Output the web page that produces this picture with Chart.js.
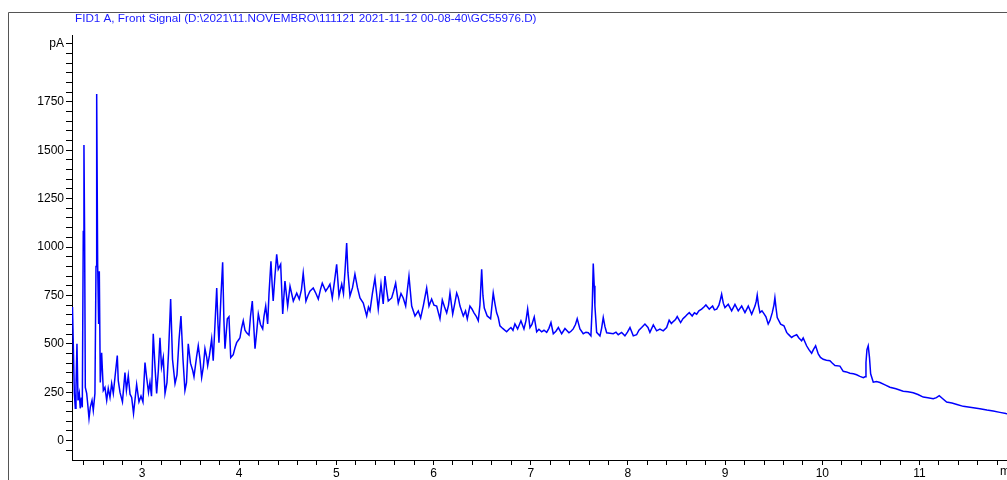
<!DOCTYPE html>
<html>
<head>
<meta charset="utf-8">
<script src="https://cdn.jsdelivr.net/npm/chart.js@4.4.1/dist/chart.umd.min.js"></script>
<style>
  html, body { margin: 0; padding: 0; background: #fff; }
  #wrap { width: 1007px; height: 480px; position: relative; }
</style>
</head>
<body>
<div id="wrap"><canvas id="chromChart"></canvas></div>
<script>
const chartTitle = 'FID1 A, Front Signal (D:\\2021\\11.NOVEMBRO\\111121 2021-11-12 00-08-40\\GC55976.D)';
const xUnit = 'min';
const yUnit = 'pA';

// retention time (min)
const timeMin = [
  2.285, 2.304, 2.314, 2.321, 2.331, 2.342, 2.355, 2.365, 2.376, 2.386,
  2.396, 2.403, 2.410, 2.417, 2.431, 2.441, 2.455, 2.468, 2.486, 2.499,
  2.516, 2.527, 2.534, 2.544, 2.554, 2.561, 2.571, 2.585, 2.602, 2.619,
  2.637, 2.653, 2.671, 2.688, 2.705, 2.722, 2.746, 2.756, 2.774, 2.799,
  2.825, 2.840, 2.859, 2.877, 2.894, 2.913, 2.945, 2.969, 2.990, 3.010,
  3.031, 3.048, 3.067, 3.082, 3.098, 3.116, 3.134, 3.151, 3.168, 3.185,
  3.201, 3.219, 3.237, 3.257, 3.273, 3.295, 3.314, 3.340, 3.360, 3.381,
  3.401, 3.422, 3.442, 3.458, 3.476, 3.499, 3.522, 3.535, 3.561, 3.579,
  3.597, 3.614, 3.631, 3.648, 3.666, 3.676, 3.694, 3.717, 3.733, 3.751,
  3.769, 3.782, 3.792, 3.813, 3.830, 3.843, 3.854, 3.878, 3.895, 3.913,
  3.939, 3.957, 3.974, 3.993, 4.008, 4.024, 4.042, 4.060, 4.077, 4.101,
  4.116, 4.135, 4.149, 4.163, 4.180, 4.197, 4.219, 4.242, 4.255, 4.273,
  4.293, 4.307, 4.327, 4.340, 4.350, 4.368, 4.386, 4.402, 4.427, 4.448,
  4.471, 4.499, 4.523, 4.557, 4.592, 4.618, 4.641, 4.659, 4.687, 4.708,
  4.728, 4.762, 4.790, 4.814, 4.836, 4.855, 4.890, 4.914, 4.934, 4.958,
  4.980, 5.003, 5.027, 5.055, 5.073, 5.088, 5.106, 5.119, 5.140, 5.166,
  5.191, 5.217, 5.243, 5.277, 5.312, 5.330, 5.346, 5.371, 5.397, 5.414,
  5.431, 5.459, 5.482, 5.500, 5.517, 5.534, 5.569, 5.588, 5.610, 5.637,
  5.665, 5.688, 5.713, 5.731, 5.747, 5.775, 5.809, 5.843, 5.867, 5.896,
  5.929, 5.953, 5.980, 6.004, 6.032, 6.066, 6.090, 6.113, 6.135, 6.154,
  6.169, 6.197, 6.215, 6.238, 6.254, 6.272, 6.306, 6.329, 6.347, 6.374,
  6.395, 6.416, 6.441, 6.460, 6.477, 6.495, 6.508, 6.522, 6.552, 6.587,
  6.614, 6.632, 6.649, 6.666, 6.683, 6.701, 6.717, 6.752, 6.776, 6.796,
  6.817, 6.837, 6.865, 6.899, 6.930, 6.951, 6.968, 6.992, 7.012, 7.036,
  7.061, 7.084, 7.112, 7.136, 7.164, 7.187, 7.208, 7.232, 7.259, 7.284,
  7.318, 7.352, 7.393, 7.414, 7.437, 7.460, 7.478, 7.506, 7.540, 7.568,
  7.592, 7.619, 7.633, 7.643, 7.653, 7.660, 7.678, 7.696, 7.712, 7.729,
  7.746, 7.763, 7.781, 7.815, 7.849, 7.877, 7.900, 7.935, 7.969, 7.995,
  8.021, 8.055, 8.089, 8.113, 8.141, 8.175, 8.206, 8.226, 8.261, 8.295,
  8.329, 8.363, 8.398, 8.424, 8.447, 8.466, 8.489, 8.507, 8.542, 8.566,
  8.586, 8.607, 8.631, 8.661, 8.684, 8.707, 8.730, 8.758, 8.782, 8.802,
  8.837, 8.871, 8.890, 8.913, 8.936, 8.952, 8.964, 8.981, 8.998, 9.032,
  9.067, 9.101, 9.135, 9.170, 9.204, 9.238, 9.273, 9.307, 9.320, 9.330,
  9.343, 9.358, 9.379, 9.399, 9.420, 9.443, 9.461, 9.485, 9.502, 9.512,
  9.525, 9.536, 9.571, 9.605, 9.633, 9.649, 9.667, 9.684, 9.703, 9.736,
  9.759, 9.787, 9.803, 9.838, 9.862, 9.890, 9.908, 9.931, 9.958, 9.981,
  10.009, 10.042, 10.078, 10.104, 10.130, 10.181, 10.215, 10.248, 10.284, 10.320,
  10.353, 10.387, 10.422, 10.439, 10.449, 10.459, 10.472, 10.485, 10.497, 10.524,
  10.557, 10.593, 10.645, 10.695, 10.757, 10.832, 10.881, 10.935, 10.984, 11.038,
  11.086, 11.141, 11.174, 11.203, 11.230, 11.279, 11.333, 11.385, 11.450, 11.519,
  11.621, 11.693, 11.758, 11.827, 11.889, 11.951
];

// FID signal (pA)
const signalPA = [
  690, 244, 167, 275, 500, 208, 244, 167, 223, 172,
  1080, 1527, 1040, 275, 244, 193, 115, 172, 208, 156,
  244, 900, 1790, 911, 603, 875, 300, 454, 259, 275,
  208, 270, 223, 295, 244, 326, 439, 310, 249, 200,
  351, 260, 336, 240, 223, 140, 290, 200, 230, 200,
  403, 326, 250, 300, 230, 552, 380, 244, 360, 531,
  380, 429, 244, 300, 450, 731, 420, 295, 340, 520,
  644, 420, 259, 300, 500, 400, 362, 330, 430, 490,
  420, 326, 380, 475, 430, 388, 440, 526, 413, 600,
  788, 600, 506, 750, 921, 620, 475, 629, 640, 429,
  444, 480, 506, 520, 531, 580, 619, 570, 557, 545,
  640, 721, 600, 475, 560, 654, 600, 577, 640, 695,
  603, 760, 926, 800, 721, 850, 962, 885, 911, 654,
  824, 695, 798, 721, 762, 731, 780, 865, 721, 750,
  772, 788, 760, 731, 780, 813, 772, 790, 808, 737,
  820, 911, 747, 808, 760, 870, 1020, 870, 747, 790,
  860, 790, 737, 711, 644, 690, 670, 760, 839, 760,
  680, 808, 706, 850, 780, 721, 737, 770, 813, 711,
  760, 737, 695, 780, 850, 695, 644, 670, 634, 700,
  788, 695, 731, 700, 695, 629, 726, 690, 660, 700,
  762, 654, 700, 762, 740, 695, 644, 670, 629, 695,
  680, 660, 640, 619, 700, 885, 750, 685, 644, 629,
  762, 706, 660, 636, 593, 584, 577, 562, 575, 584,
  570, 603, 577, 619, 577, 620, 680, 584, 600, 639,
  562, 575, 562, 570, 559, 580, 610, 552, 565, 584,
  552, 579, 557, 565, 577, 600, 630, 577, 552, 560,
  557, 541, 700, 915, 800, 695, 559, 550, 541, 580,
  636, 590, 557, 555, 552, 560, 547, 559, 541, 560,
  584, 541, 547, 570, 584, 602, 585, 559, 598, 567,
  576, 567, 584, 622, 605, 615, 625, 641, 610, 630,
  639, 650, 661, 644, 660, 653, 670, 679, 690, 701,
  679, 695, 675, 679, 700, 730, 756, 710, 687, 704,
  670, 704, 670, 695, 661, 695, 653, 695, 720, 752,
  700, 661, 670, 656, 640, 602, 620, 661, 700, 738,
  680, 636, 602, 593, 559, 550, 541, 533, 540, 547,
  530, 516, 530, 490, 470, 451, 470, 490, 448, 430,
  420, 415, 413, 400, 388, 385, 358, 355, 348, 345,
  340, 332, 325, 330, 404, 470, 490, 430, 345, 302,
  305, 300, 288, 276, 268, 255, 252, 247, 238, 225,
  222, 217, 222, 232, 220, 199, 194, 187, 177, 172,
  165, 158, 153, 146, 140, 136
];

const xTickLabels = ['3', '4', '5', '6', '7', '8', '9', '10', '11'];
const yTickLabels = ['0', '250', '500', '750', '1000', '1250', '1500', '1750'];

const points = timeMin.map((t, i) => ({ x: t, y: signalPA[i] }));

// outer frame, title and unit text
const framePlugin = {
  id: 'frame',
  beforeDraw(chart) {
    const ctx = chart.ctx;
    ctx.save();
    ctx.fillStyle = '#ffffff';
    ctx.fillRect(0, 0, chart.width, chart.height);
    ctx.strokeStyle = '#555555';
    ctx.lineWidth = 1;
    ctx.beginPath();
    ctx.moveTo(8.5, chart.height);
    ctx.lineTo(8.5, 12.5);
    ctx.lineTo(chart.width, 12.5);
    ctx.stroke();
    ctx.fillStyle = '#1a1aff';
    ctx.font = '11.7px "Liberation Sans", Arial, sans-serif';
    ctx.textBaseline = 'middle';
    ctx.textAlign = 'left';
    ctx.fillText(chartTitle, 75, 19);
    ctx.restore();
  },
  afterDraw(chart) {
    const ctx = chart.ctx;
    ctx.save();
    ctx.fillStyle = '#000000';
    ctx.font = '12px "Liberation Sans", Arial, sans-serif';
    ctx.textBaseline = 'top';
    ctx.textAlign = 'left';
    ctx.fillText(xUnit, 1000, chart.chartArea.bottom + 6);
    ctx.restore();
  }
};

const ctx = document.getElementById('chromChart').getContext('2d');
const chromChart = new Chart(ctx, {
  type: 'line',
  data: {
    datasets: [{
      label: chartTitle,
      data: points,
      borderColor: '#0000ff',
      borderWidth: 1.5,
      pointRadius: 0,
      tension: 0,
      fill: false
    }]
  },
  options: {
    responsive: true,
    maintainAspectRatio: false,
    animation: false,
    layout: { padding: { top: 35, left: 0, right: 0, bottom: 0 } },
    scales: {
      x: {
        type: 'linear',
        min: 2.28,
        max: 11.9,
        afterBuildTicks: scale => {
          const ticks = [];
          for (let k = 12; k <= 59; k++) ticks.push({ value: k / 5 });
          scale.ticks = ticks;
        },
        afterFit: scale => { scale.height = 20; },
        grid: { drawOnChartArea: false, drawTicks: true, tickLength: 5, tickColor: '#000' },
        border: { display: true, color: '#000', width: 1 },
        ticks: {
          autoSkip: false,
          maxRotation: 0,
          padding: 1,
          color: '#000',
          font: { family: '"Liberation Sans", Arial, sans-serif', size: 12 },
          callback: v => (Number.isInteger(v) && xTickLabels.includes(String(v))) ? String(v) : ''
        }
      },
      y: {
        type: 'linear',
        min: -100,
        max: 2095,
        afterBuildTicks: scale => {
          const ticks = [];
          for (let k = -1; k <= 41; k++) ticks.push({ value: k * 50 });
          scale.ticks = ticks;
        },
        afterFit: scale => { scale.width = 72; },
        grid: { drawOnChartArea: false, drawTicks: true, tickLength: 6, tickColor: '#000' },
        border: { display: true, color: '#000', width: 1 },
        ticks: {
          autoSkip: false,
          padding: 2,
          color: '#000',
          font: { family: '"Liberation Sans", Arial, sans-serif', size: 12 },
          callback: v => {
            if (v === 2050) return yUnit;
            return yTickLabels.includes(String(v)) ? String(v) : '';
          }
        }
      }
    },
    plugins: {
      legend: { display: false },
      tooltip: { enabled: false }
    }
  },
  plugins: [framePlugin]
});
</script>
</body>
</html>
